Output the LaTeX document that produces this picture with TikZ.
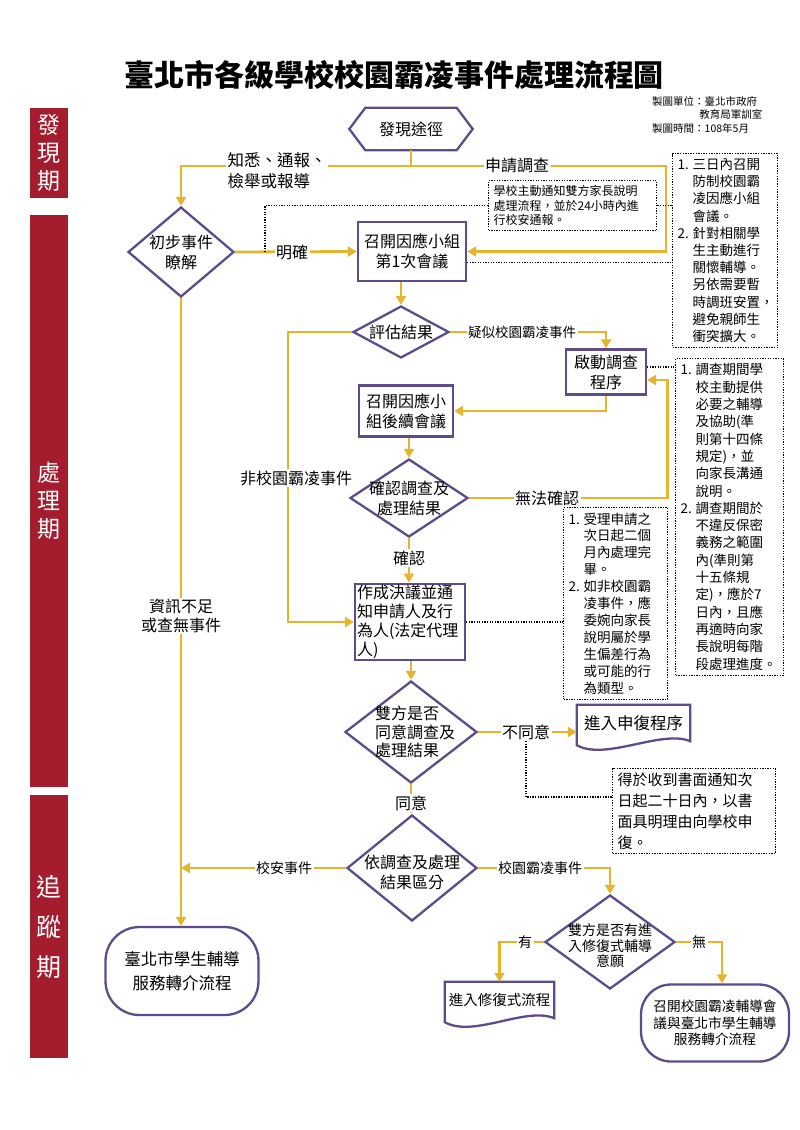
\documentclass[tikz,border=0pt]{standalone}
\usepackage{fontspec}
\setmainfont{Noto Sans CJK TC}
\usetikzlibrary{shapes.geometric,arrows.meta,calc}
\definecolor{pur}{HTML}{5E4B8B}
\definecolor{yel}{HTML}{E5B52E}
\definecolor{barred}{HTML}{A31D2F}
\newcommand{\fs}[2]{\fontsize{#1}{#2}\selectfont}
\newcommand{\nlb}[1]{\makebox[15pt][l]{#1}}
\newcommand{\hgi}{\hspace*{15pt}}
\begin{document}
\begin{tikzpicture}[x=1pt,y=-1pt,
  box/.style={draw=pur, line width=2.3pt, fill=white, align=center, inner sep=2pt, font=\fs{16}{20}},
  dia/.style={diamond, draw=pur, line width=2.3pt, fill=white, inner sep=0pt},
  plain/.style={align=center, inner sep=0pt, font=\fs{16}{20}},
  oval/.style={draw=pur, line width=2.3pt, fill=white, rounded corners=34pt, align=center, inner sep=0pt},
  flow/.style={draw=yel, line width=2.8pt, -{Triangle[length=9pt,width=10pt]}},
  yl/.style={draw=yel, line width=2.8pt},
  shp/.style={draw=pur, line width=2.3pt},
  lbl/.style={fill=white, inner sep=1.5pt, font=\fs{16}{19}, align=center},
  slbl/.style={fill=white, inner sep=1.5pt, font=\fs{14}{16}},
  dotl/.style={draw=black, line width=1.3pt, dash pattern=on 1.3pt off 1.3pt},
  note/.style={dotl, align=left, anchor=north west, font=\fs{13.5}{17.2}, inner xsep=5pt, inner ysep=5pt},
  phase/.style={fill=barred, text=white, minimum width=38, inner sep=0pt, align=center, font=\fs{23}{28}}
]
\fill[white] (0,0) rectangle (800,1130);
\useasboundingbox (0,0) rectangle (800,1130);

% title and info
\node[font=\fs{30}{32}\bfseries] (title) at (394,75) {臺北市各級學校校園霸凌事件處理流程圖};
\node[anchor=north west, align=left, font=\fs{10.5}{13.5}, inner sep=0pt] (info) at (652,96)
  {製圖單位：臺北市政府\\\hspace*{4.5em}教育局軍訓室\\製圖時間：108年5月};

% phase bars
\node[phase, minimum height=90] (p1) at (49,153) {發\\現\\期};
\node[phase, minimum height=572] (p2) at (49,501) {處\\理\\期};
\node[phase, minimum height=263, font=\fs{25}{40}] (p3) at (49,926.5) {追\\蹤\\期};

% hexagon
\node[plain, minimum width=123, minimum height=42] (hex) at (411,129) {發現途徑};
\draw[shp] (hex.west) -- ($(hex.north west)+(16,0)$) -- ($(hex.north east)+(-16,0)$) -- (hex.east)
  -- ($(hex.south east)+(-16,0)$) -- ($(hex.south west)+(16,0)$) -- cycle;

% diamonds
\node[dia, minimum width=106, minimum height=90] (d1) at (181,252) {};
\node[plain] (d1t) at (d1) {初步事件\\瞭解};
\node[dia, minimum width=96, minimum height=52] (d2) at (401,332) {};
\node[plain] (d2t) at (d2) {評估結果};
\node[dia, minimum width=118, minimum height=78] (d3) at (409,498) {};
\node[plain] (d3t) at (d3) {確認調查及\\處理結果};
\node[dia, minimum width=132, minimum height=102] (d5) at (411,732) {};
\node[plain, align=left, font=\fs{16}{18.5}] (d5t) at (415,732) {雙方是否\\同意調查及\\處理結果};
\node[dia, minimum width=130, minimum height=106] (d6) at (412,868) {};
\node[plain] (d6t) at (412,872) {依調查及處理\\結果區分};
\node[dia, minimum width=130, minimum height=94] (d7) at (610,942) {};
\node[plain, font=\fs{14}{15.5}] (d7t) at (610,946) {雙方是否有進\\入修復式輔導\\意願};

% boxes
\node[box, minimum width=108, minimum height=59] (b1) at (412,251.5) {召開因應小組\\第1次會議};
\node[box, minimum width=80, minimum height=45] (b2) at (606,372) {啟動調查\\程序};
\node[box, minimum width=94, minimum height=51] (b3) at (406,411) {召開因應小\\組後續會議};
\node[box, minimum width=110, minimum height=73, text width=106, align=left, inner sep=1.5pt, font=\fs{16}{19}] (b4) at (410,622)
  {作成決議並通\\知申請人及行\\為人(法定代理\\人)};

% ovals
\node[oval, minimum width=153, minimum height=88, font=\fs{16.5}{24}] (o1) at (182,971) {臺北市學生輔導\\服務轉介流程};
\node[oval, minimum width=148, minimum height=77, rounded corners=30pt, font=\fs{13.7}{16.5}] (o2) at (715,1023) {召開校園霸凌輔導會\\議與臺北市學生輔導\\服務轉介流程};

% documents
\node[plain, minimum width=113, minimum height=36, font=\fs{16.5}{20}] (doc1) at (633.5,723) {進入申復程序};
\draw[shp] (doc1.north west) -- (doc1.north east) -- (doc1.south east)
  .. controls ($(doc1.south)+(28,-12)$) and ($(doc1.south)+(-28,20)$) .. ($(doc1.south west)+(0,4)$) -- cycle;
\node[plain, minimum width=109, minimum height=36, font=\fs{14.5}{18}] (doc2) at (499.5,1000) {進入修復式流程};
\draw[shp] (doc2.north west) -- (doc2.north east) -- (doc2.south east)
  .. controls ($(doc2.south)+(26,-12)$) and ($(doc2.south)+(-26,20)$) .. ($(doc2.south west)+(0,4)$) -- cycle;

% notes
\node[note, font=\fs{12}{14.5}, text width=158] (nA) at (488,180)
  {學校主動通知雙方家長說明\\處理流程，並於24小時內進\\行校安通報。};
\node[note, text width=95] (nB) at (672,153)
  {\nlb{1.}三日內召開\\\hgi 防制校園霸\\\hgi 凌因應小組\\\hgi 會議。\\
   \nlb{2.}針對相關學\\\hgi 生主動進行\\\hgi 關懷輔導。\\\hgi 另依需要暫\\\hgi 時調班安置，\\\hgi 避免親師生\\\hgi 衝突擴大。};
\node[note, text width=98, font=\fs{13.5}{17.3}] (nC) at (675,358)
  {\nlb{1.}調查期間學\\\hgi 校主動提供\\\hgi 必要之輔導\\\hgi 及協助(準\\\hgi 則第十四條\\\hgi 規定)，並\\\hgi 向家長溝通\\\hgi 說明。\\
   \nlb{2.}調查期間於\\\hgi 不違反保密\\\hgi 義務之範圍\\\hgi 內(準則第\\\hgi 十五條規\\\hgi 定)，應於7\\\hgi 日內，且應\\\hgi 再適時向家\\\hgi 長說明每階\\\hgi 段處理進度。};
\node[note, text width=94, font=\fs{13.5}{16.9}] (nD) at (563,507)
  {\nlb{1.}受理申請之\\\hgi 次日起二個\\\hgi 月內處理完\\\hgi 畢。\\
   \nlb{2.}如非校園霸\\\hgi 凌事件，應\\\hgi 委婉向家長\\\hgi 說明屬於學\\\hgi 生偏差行為\\\hgi 或可能的行\\\hgi 為類型。};
\node[note, text width=153, font=\fs{15}{21}, inner ysep=4pt] (nE) at (612,768)
  {得於收到書面通知次\\日起二十日內，以書\\面具明理由向學校申\\復。};

% connectors
\coordinate (j0) at (411,166);
\coordinate (jr) at (666,166);
\draw[yl] (hex.south) -- (j0);
\draw[flow] (j0) -| (d1.north);
\draw[flow] (j0) -- (jr) |- (b1.east);
\draw[flow] (d1.east) -- (b1.west);
\draw[flow] (b1.south -| d2.north) -- (d2.north);
\draw[flow] (d2.east) -| (b2.north);
\draw[flow] (b2.south) |- (b3.east);
\draw[flow] (b3.south -| d3.north) -- (d3.north);
\draw[flow] (d3.east) -| ($(b2.east)+(20,8)$) -- ($(b2.east)+(0,8)$);
\draw[flow] (d3.south) -- (d3.south |- b4.north);
\coordinate (nc) at (288,622);
\draw[flow] (d2.west) -| (nc) -- (b4.west);
\draw[flow] (b4.south -| d5.north) -- (d5.north);
\draw[flow] (d5.east) -- (doc1.west |- d5.east);
\draw[flow] (d5.south) -- (d5.south |- d6.north);
\draw[flow] (d6.west) -- (d6.west -| d1.south);
\draw[flow] (d1.south) -- (d1.south |- o1.north);
\draw[flow] (d6.east) -| (d7.north);
\draw[flow] (d7.west) -| (doc2.north);
\draw[flow] (d7.east) -| ($(o2.north)+(7,0)$);

% labels
\node[lbl, anchor=west, align=left, font=\fs{16.5}{21}] (l1) at (226,171) {知悉、通報、\\檢舉或報導};
\node[lbl] (l2) at (517,166) {申請調查};
\node[lbl] (l3) at (292,252) {明確};
\node[lbl, font=\fs{13.5}{16}] (l4) at (522,332) {疑似校園霸凌事件};
\node[lbl] (l5) at (296,478) {非校園霸凌事件};
\node[lbl] (l6) at (547,498) {無法確認};
\node[lbl] (l7) at (409,558) {確認};
\node[lbl] (l8) at (181,616) {資訊不足\\或查無事件};
\node[lbl] (l9) at (526,732) {不同意};
\node[lbl] (l10) at (411,803) {同意};
\node[slbl] (l11) at (284,868) {校安事件};
\node[slbl] (l12) at (540,868) {校園霸凌事件};
\node[slbl] (l13) at (525,942) {有};
\node[slbl] (l14) at (699,942) {無};

% dotted connectors
\coordinate (mq) at (265,252);
\draw[dotl] (nA.west) -| (mq);
\draw[dotl] (nA.east) -- (nA.east -| nB.west);
\coordinate (b1d) at ($(b1.east)+(0,11)$);
\draw[dotl] (b1d) -- (b1d -| nB.west);
\coordinate (b2d) at ($(b2.east)+(0,-5)$);
\draw[dotl] (b2d) -- (b2d -| nC.west);
\draw[dotl] (b4.east) -- (b4.east -| nD.west);
\coordinate (ne1) at ($(nE.west)+(0,-14)$);
\draw[dotl] (l9.south) |- (ne1);
\end{tikzpicture}
\end{document}
